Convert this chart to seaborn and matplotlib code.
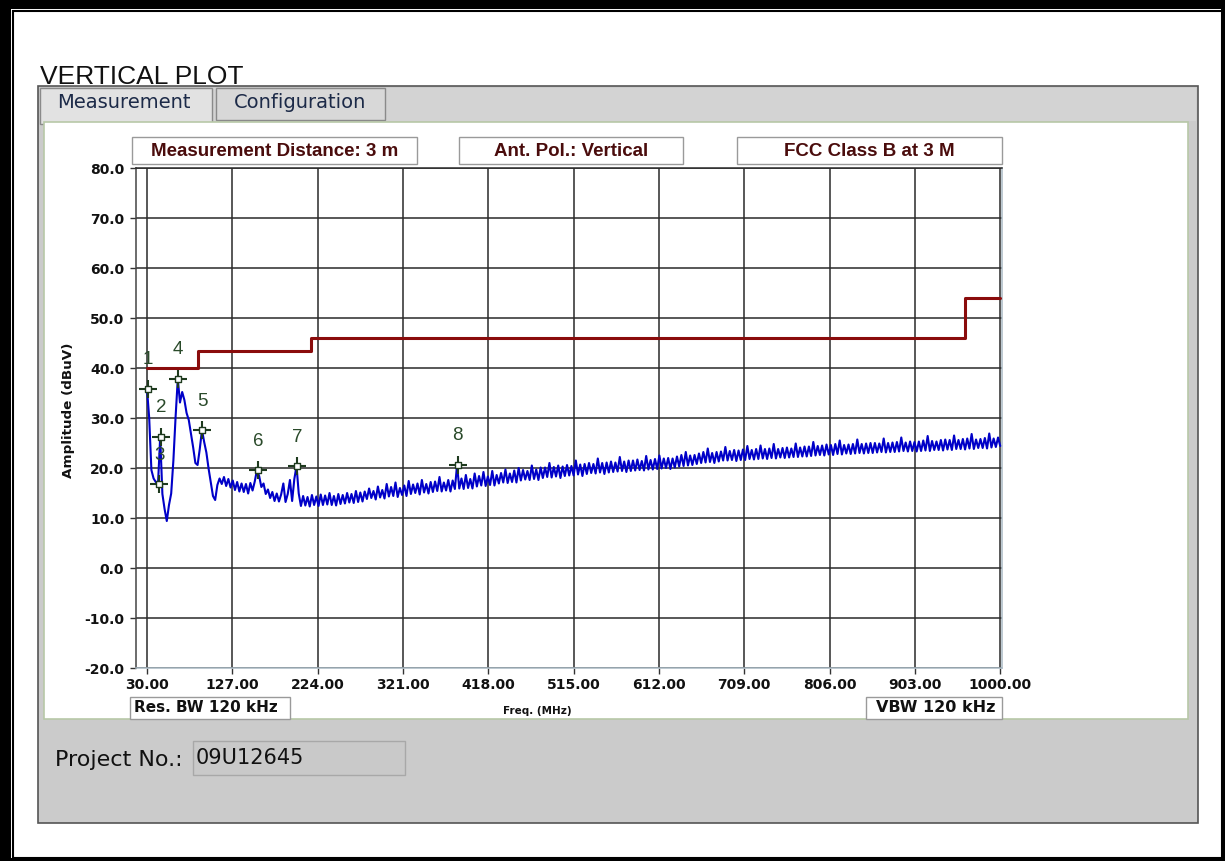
"""
Radiated emissions sweep, vertical antenna polarisation, 30 MHz - 1 GHz,
against the FCC Class B limit at 3 m.
"""

import numpy as np
import pandas as pd
import matplotlib
matplotlib.use("Agg")
import matplotlib.pyplot as plt
from matplotlib.patches import Rectangle
import seaborn as sns


W, H = 1225, 861   # output size in pixels (dpi 100)

# analyzer sweep grid: one reading every 2.5 MHz starting at 30 MHz
SWEEP_START_MHZ = 30.0
SWEEP_STEP_MHZ = 2.5
TRACE_DBUV = [
    35.8, 30.0, 19.6, 17.9, 17.2, 16.8, 26.2, 14.8, 11.8, 9.4,
    12.6, 14.9, 21.5, 30.2, 37.8, 33.1, 35.2, 33.6, 31.0, 29.6,
    26.8, 24.1, 21.0, 20.6, 23.8, 27.6, 25.2, 23.1, 19.9, 17.2,
    14.4, 13.6, 16.6, 17.9, 16.8, 18.2, 16.4, 17.8, 16.1, 17.5,
    15.6, 17.2, 15.3, 16.9, 15.2, 16.8, 14.9, 17.0, 15.5, 17.3,
    19.6, 18.4, 16.2, 16.9, 14.8, 15.7, 14.0, 15.2, 13.4, 14.9,
    13.3, 14.7, 16.9, 13.2, 14.8, 17.6, 13.4, 17.8, 20.4, 14.9,
    12.4, 14.4, 12.5, 14.2, 12.3, 14.6, 12.6, 14.3, 12.4, 14.7,
    12.6, 14.5, 12.7, 15.0, 12.6, 14.4, 12.5, 14.8, 12.8, 14.6,
    12.9, 15.0, 13.1, 14.8, 13.0, 15.4, 13.2, 15.1, 13.3, 15.3,
    13.8, 15.9, 14.0, 15.4, 13.7, 16.3, 14.1, 15.6, 13.9, 16.8,
    14.3, 16.2, 14.4, 17.1, 14.2, 16.0, 14.6, 16.5, 14.4, 17.4,
    14.8, 16.7, 15.0, 16.9, 14.7, 17.6, 15.1, 16.8, 14.9, 17.2,
    15.2, 17.3, 15.4, 18.2, 15.3, 17.1, 15.5, 17.6, 15.3, 17.5,
    15.8, 20.6, 15.9, 17.9, 15.8, 18.6, 16.0, 17.8, 15.9, 18.9,
    16.3, 18.4, 16.5, 19.2, 16.4, 18.3, 16.6, 19.4, 16.5, 18.6,
    16.9, 19.0, 17.1, 19.7, 17.0, 18.9, 17.2, 19.5, 17.1, 20.0,
    17.5, 19.6, 17.7, 19.4, 17.6, 20.5, 17.8, 19.7, 17.6, 20.1,
    18.0, 20.1, 18.2, 21.0, 18.1, 20.2, 18.3, 20.5, 18.0, 20.3,
    18.4, 20.6, 18.5, 20.4, 18.5, 21.5, 18.7, 20.7, 18.4, 20.8,
    18.8, 21.0, 19.0, 20.8, 18.9, 21.9, 19.1, 21.0, 18.8, 21.1,
    19.1, 21.3, 19.2, 21.1, 19.3, 22.2, 19.4, 21.3, 19.2, 21.5,
    19.4, 21.5, 19.5, 21.7, 19.6, 21.4, 19.5, 22.4, 19.7, 21.6,
    19.7, 21.8, 19.8, 22.5, 19.9, 21.9, 20.0, 22.0, 19.8, 21.9,
    20.1, 22.3, 20.3, 22.6, 20.4, 23.2, 20.5, 22.5, 20.6, 22.6,
    20.8, 22.9, 21.0, 23.2, 21.1, 23.9, 21.2, 23.0, 21.0, 23.2,
    21.3, 23.3, 21.5, 24.2, 21.5, 23.4, 21.6, 23.6, 21.4, 23.5,
    21.6, 23.7, 21.6, 24.4, 21.8, 23.6, 21.7, 23.8, 21.8, 24.5,
    21.9, 23.8, 21.8, 23.9, 22.0, 24.8, 21.9, 23.8, 22.1, 24.0,
    22.0, 24.1, 22.1, 23.9, 22.2, 24.9, 22.2, 24.1, 22.3, 24.3,
    22.3, 24.3, 22.4, 25.2, 22.5, 24.4, 22.6, 24.5, 22.5, 24.7,
    22.7, 24.6, 22.6, 24.8, 22.8, 25.5, 22.7, 24.6, 22.9, 24.7,
    22.8, 24.8, 22.9, 25.7, 23.0, 24.8, 22.9, 24.9, 23.0, 25.0,
    23.0, 25.0, 23.1, 24.9, 23.2, 25.9, 23.1, 25.0, 23.2, 25.1,
    23.2, 25.2, 23.3, 26.1, 23.4, 25.1, 23.3, 25.3, 23.4, 25.2,
    23.3, 25.3, 23.4, 25.5, 23.5, 26.4, 23.4, 25.4, 23.6, 25.3,
    23.6, 25.6, 23.5, 25.7, 23.7, 25.6, 23.6, 26.5, 23.8, 25.6,
    23.8, 25.8, 23.7, 25.9, 23.9, 26.8, 23.8, 25.7, 24.0, 25.8,
    24.0, 26.0, 23.9, 26.9, 24.1, 25.9, 24.2, 26.1, 24.4,
]

# FCC Class B limit at 3 m (step edges)
LIMIT_MHZ = [30, 88, 216, 960, 1000]
LIMIT_DBUV = [40.0, 43.5, 46.0, 54.0, 54.0]

# peak markers
MARKER_IDS = ["1", "2", "3", "4", "5", "6", "7", "8"]
MARKER_MHZ = [30.8, 46.0, 44.0, 65.5, 93.0, 156.0, 201.0, 383.0]
MARKER_DBUV = [35.8, 26.3, 16.8, 37.8, 27.6, 19.6, 20.4, 20.6]

X_TICKS = [30, 127, 224, 321, 418, 515, 612, 709, 806, 903, 1000]
Y_TICKS = [-20, -10, 0, 10, 20, 30, 40, 50, 60, 70, 80]

TRACE_COLOR = "#0000c8"
LIMIT_COLOR = "#8a0c0c"
MARKER_COLOR = "#1e3a1e"
LABEL_RED = "#4a0c0c"


sns.set_theme(style="white")
plt.rcParams["font.family"] = ["DejaVu Sans"]

fig = plt.figure(figsize=(W / 100, H / 100), dpi=100)
fig.patch.set_facecolor("white")


def px_box(x0, y0, x1, y1, fc, ec="none", lw=1.0, z=-5):
    fig.add_artist(Rectangle((x0 / W, 1 - y1 / H), (x1 - x0) / W, (y1 - y0) / H,
                             transform=fig.transFigure, facecolor=fc,
                             edgecolor=ec, linewidth=lw, zorder=z))


def px_text(x, y, s, z=5, **kw):
    fig.text(x / W, 1 - y / H, s, zorder=z, **kw)


# --- window chrome ---
px_box(0, 0, 11, H, "black", z=-10)
px_box(0, 0, W, 9, "black", z=-10)
px_box(13, 11, 1222, 858, "none", ec="black", lw=1.5, z=-9)
px_box(1221, 0, W, H, "black", z=-10)
px_box(0, 858, W, H, "black", z=-10)

px_text(40, 84, "VERTICAL PLOT", fontsize=19, family="Liberation Sans",
        va="baseline", ha="left", color="#111111")

# grey tab panel
px_box(38, 86, 1198, 823, "#cbcbcb", ec="#555555", lw=1.2, z=-8)
px_box(40, 88, 1196, 121, "#d3d3d3", z=-7)
px_box(40, 88, 212, 124, "#e2e2e2", ec="#8a8a8a", lw=1.0, z=-6)
px_box(216, 88, 385, 120, "#d8d8d8", ec="#8a8a8a", lw=1.0, z=-6)
px_text(124, 103, "Measurement", fontsize=14, ha="center", va="center", color="#1c2a48")
px_text(300, 103, "Configuration", fontsize=14, ha="center", va="center", color="#1c2a48")

# white plotting panel
px_box(44, 122, 1188, 719, "white", ec="#b8c8a8", lw=1.2, z=-5)

# project number
px_text(55, 760, "Project No.:", fontsize=16, ha="left", va="center", color="#111111")
px_box(193, 741, 405, 775, "#c9c9c9", ec="#a8a8a8", lw=1.0, z=-4)
px_text(196, 758, "09U12645", fontsize=15, ha="left", va="center", color="#111111")

# header boxes above the plot
for (x0, x1, txt) in [(132, 417, "Measurement Distance: 3 m"),
                      (459, 683, "Ant. Pol.: Vertical"),
                      (737, 1002, "FCC Class B at 3 M")]:
    px_box(x0, 137, x1, 164, "white", ec="#9a9a9a", lw=1.0, z=-3)
    px_text((x0 + x1) / 2, 151, txt, fontsize=13.5, family="Liberation Sans",
            weight="bold", ha="center", va="center", color=LABEL_RED)

# footer boxes
px_box(130, 697, 290, 719, "white", ec="#9a9a9a", lw=1.0, z=-3)
px_text(134, 708, "Res. BW 120 kHz", fontsize=11, weight="bold",
        ha="left", va="center", color="#111111")
px_box(866, 697, 1002, 719, "white", ec="#9a9a9a", lw=1.0, z=-3)
px_text(996, 708, "VBW 120 kHz", fontsize=11.5, weight="bold",
        ha="right", va="center", color="#111111")

# --- the plot itself ---
ax = fig.add_axes([136 / W, 1 - 668 / H, (1002 - 136) / W, (668 - 168) / H])
ax.set_facecolor("white")

freqs = SWEEP_START_MHZ + SWEEP_STEP_MHZ * np.arange(len(TRACE_DBUV))
trace = pd.DataFrame({"freq": freqs, "level": TRACE_DBUV})
limit = pd.DataFrame({"freq": LIMIT_MHZ, "level": LIMIT_DBUV})

sns.lineplot(data=trace, x="freq", y="level", ax=ax, color=TRACE_COLOR,
             linewidth=1.5, zorder=3)
sns.lineplot(data=limit, x="freq", y="level", ax=ax, color=LIMIT_COLOR,
             linewidth=2.2, drawstyle="steps-post", zorder=4)

ax.scatter(MARKER_MHZ, MARKER_DBUV, marker="+", s=170, linewidths=1.5,
           color=MARKER_COLOR, zorder=5)
ax.scatter(MARKER_MHZ, MARKER_DBUV, marker="s", s=14, linewidths=1.0,
           facecolors="white", edgecolors=MARKER_COLOR, zorder=6)
for mid, mx, my in zip(MARKER_IDS, MARKER_MHZ, MARKER_DBUV):
    ax.annotate(mid, (mx, my), xytext=(0, 29), textcoords="offset pixels",
                ha="center", va="center", fontsize=13.5, color="#2a4a2a",
                family="Liberation Sans", zorder=7)

ax.set_xlim(17.5, 1002)
ax.set_ylim(-20, 80)
ax.set_xticks(X_TICKS)
ax.set_xticklabels([f"{t:.2f}" for t in X_TICKS])
ax.set_yticks(Y_TICKS)
ax.set_yticklabels([f"{t:.1f}" for t in Y_TICKS])
ax.grid(True, color="#2a2a2a", linewidth=1.1)
ax.set_axisbelow(True)

ax.tick_params(axis="both", direction="out", length=4.5, width=1.0,
               color="#333333", labelsize=10, colors="#111111")
ax.tick_params(axis="x", pad=2.5)
ax.tick_params(axis="y", pad=4)
ax.xaxis.set_ticks_position("bottom")
ax.yaxis.set_ticks_position("left")
for lab in ax.get_xticklabels() + ax.get_yticklabels():
    lab.set_fontweight("bold")

ax.spines["left"].set_color("#444444")
ax.spines["top"].set_color("#2a2a2a")
ax.spines["bottom"].set_color("#a9b9c4")
ax.spines["right"].set_color("#a9b9c4")
for sp in ax.spines.values():
    sp.set_linewidth(1.1)

ax.set_xlabel("Freq. (MHz)", fontsize=7.5, weight="bold", color="#111111")
ax.set_ylabel("Amplitude (dBuV)", fontsize=9.7, weight="bold", color="#111111")
ax.xaxis.set_label_coords((537 - 136) / 866, (668 - 706) / 500)
ax.yaxis.set_label_coords((75 - 136) / 866, (668 - 410) / 500)

fig.savefig("out.png", dpi=100)
